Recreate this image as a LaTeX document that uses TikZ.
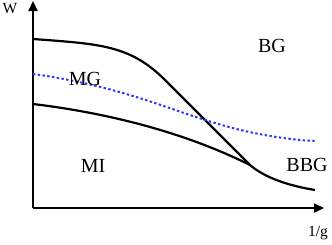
\documentclass[tikz,border=0pt]{standalone}
\usepackage{fontspec}
\setmainfont{Liberation Serif}
\usetikzlibrary{arrows.meta, positioning}

\begin{document}
\begin{tikzpicture}[x=1pt, y=-1pt, every node/.style={inner sep=0pt},
    axis/.style={line width=2.3pt, -{Triangle[length=10pt, width=9pt]}},
    phase/.style={line width=2.2pt},
    mgline/.style={line width=2pt, color=blue!80, dash pattern=on 2.4pt off 2.4pt},
    region/.style={font=\fontsize{20}{22}\selectfont},
    axlabel/.style={font=\fontsize{15.5}{17}\selectfont}]
  \useasboundingbox (0,0) rectangle (332,244);

  \coordinate (origin) at (33,208);
  \coordinate (ytip) at (33,1);
  \coordinate (xtip) at (324,208);
  \coordinate (meet) at (250,165);

  % axes
  \draw [axis] (origin) -- (ytip);
  \draw [axis] (origin) -- (xtip);
  \node (w_label) [axlabel] at (10,9) {W};
  \node (invg_label) [axlabel] at (318,233) {1/g};

  % boundaries
  \draw [phase] (33,39) .. controls (100,44) and (130,45) .. (165,80) -- (meet)
    .. controls (265,178) and (290,186) .. (315,190);
  \draw [phase] (33,104) .. controls (100,112) and (180,130) .. (meet);
  \draw [mgline] (33,74) .. controls (120,86) and (170,110) .. (215,123)
    .. controls (250,134) and (290,140) .. (315,141);

  % regions
  \node (mg_label) [region] at (85,79) {MG};
  \node (mi_label) [region] at (93,166) {MI};
  \node (bg_label) [region] at (272,46) {BG};
  \node (bbg_label) [region] at (307,165) {BBG};
\end{tikzpicture}
\end{document}
